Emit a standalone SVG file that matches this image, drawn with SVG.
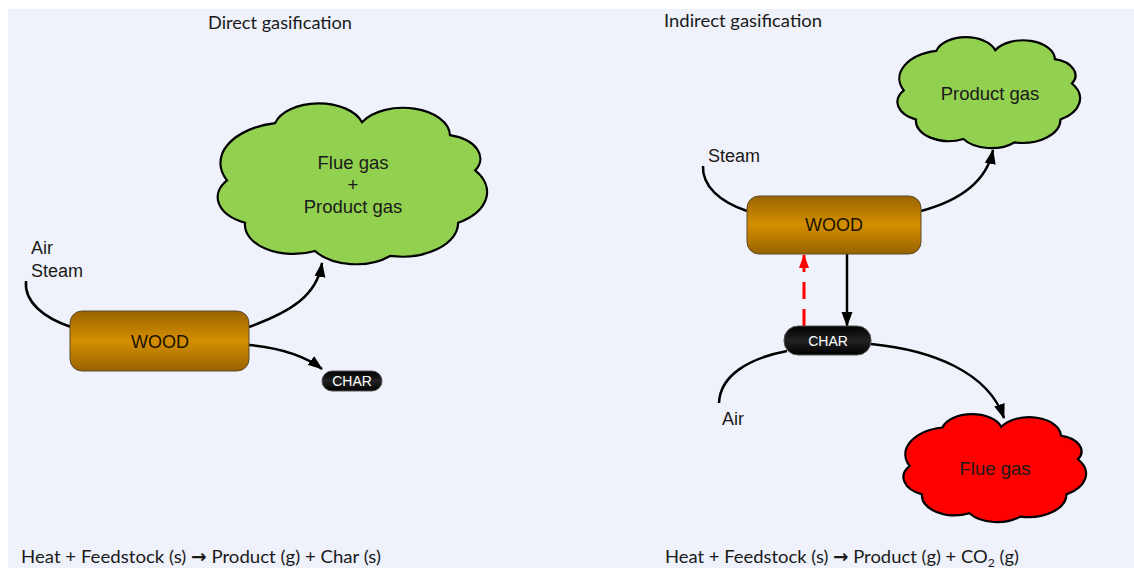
<svg xmlns="http://www.w3.org/2000/svg" xmlns:xlink="http://www.w3.org/1999/xlink" width="1134" height="568" viewBox="0 0 1134 568">
  <style>
    .title { font-family: "Lato", "Liberation Sans", sans-serif; font-size: 18px; fill: #1a1a1a; }
    .arrowglyph { font-family: "DejaVu Sans", sans-serif; font-weight: bold; }
    .label { font-family: "Liberation Sans", Arial, sans-serif; font-size: 18px; fill: #1a1a1a; }
    .woodtext { font-family: "Liberation Sans", Arial, sans-serif; font-size: 18px; fill: #1a1200; text-anchor: middle; }
    .chartext { font-family: "Liberation Sans", Arial, sans-serif; font-size: 14px; fill: #ffffff; text-anchor: middle; }
    .cloudtext { font-family: "Liberation Sans", Arial, sans-serif; font-size: 18.5px; fill: #1a1a1a; text-anchor: middle; }
    .wood { fill: url(#woodGrad); stroke: #5a4a30; stroke-width: 1; }
    .char { fill: url(#charGrad); stroke: #555555; stroke-width: 1; }
    .flow { fill: none; stroke: #000000; stroke-width: 2.5; }
    .flow-arrow { fill: none; stroke: #000000; stroke-width: 2.5; marker-end: url(#arrow); }
    .recycle { fill: none; stroke: #ff0000; stroke-width: 3; stroke-dasharray: 17 10; marker-end: url(#arrowRed); }
    .cloud-shape { stroke: #000000; stroke-width: 2.2; }
  </style>
  <defs>
    <linearGradient id="woodGrad" x1="0" y1="0" x2="0" y2="1">
      <stop offset="0" stop-color="#9a6400"/>
      <stop offset="0.5" stop-color="#d48f00"/>
      <stop offset="1" stop-color="#976200"/>
    </linearGradient>
    <linearGradient id="charGrad" x1="0" y1="0" x2="0" y2="1">
      <stop offset="0" stop-color="#000000"/>
      <stop offset="0.5" stop-color="#222222"/>
      <stop offset="1" stop-color="#000000"/>
    </linearGradient>
    <marker id="arrow" markerUnits="userSpaceOnUse" markerWidth="16" markerHeight="12" refX="14" refY="5.5" orient="auto">
      <path d="M0,0 L15,5.5 L0,11 Z" fill="#000000"/>
    </marker>
    <marker id="arrowRed" markerUnits="userSpaceOnUse" markerWidth="16" markerHeight="12" refX="13" refY="5" orient="auto">
      <path d="M0,0 L14,5 L0,10 Z" fill="#ff0000"/>
    </marker>
    <!-- cloud outline in a 1000x1000 box, scaled per use -->
    <path id="cloud" vector-effect="non-scaling-stroke" d="M215,125 A168,168 0 0 1 537,119 A174,174 0 0 1 863,200 A150,150 0 0 1 956,419 A224,224 0 0 1 893,744 A209,209 0 0 1 641,950 A181,181 0 0 1 363,919 A180,180 0 0 1 104,744 A175,175 0 0 1 37,481 A253,253 0 0 1 215,125 Z"/>
  </defs>

  <!-- page -->
  <rect x="0" y="0" width="1134" height="568" fill="#ffffff"/>
  <rect x="8" y="9" width="1126" height="559" fill="#eff2fa"/>

  <!-- headings and reactions -->
  <text class="title" x="208" y="29" textLength="144" lengthAdjust="spacingAndGlyphs">Direct gasification</text>
  <text class="title" x="664" y="27" textLength="158" lengthAdjust="spacingAndGlyphs">Indirect gasification</text>
  <text class="title" x="21" y="563" textLength="360" lengthAdjust="spacingAndGlyphs">Heat + Feedstock (s) <tspan class="arrowglyph">→</tspan> Product (g) + Char (s)</text>
  <text class="title" x="665" y="563" textLength="354" lengthAdjust="spacingAndGlyphs">Heat + Feedstock (s) <tspan class="arrowglyph">→</tspan> Product (g) + CO<tspan font-size="12" dy="4">2</tspan><tspan dy="-4"> (g)</tspan></text>

  <!-- connectors -->
  <g id="connectors">
    <!-- direct -->
    <path class="flow" d="M26,281 C24,302 44,318 71,327"/>
    <path class="flow-arrow" d="M249,327 C290,312 317,296 322,263"/>
    <path class="flow-arrow" d="M249,345 C280,348 305,356 322,369"/>
    <!-- indirect -->
    <path class="flow" d="M703,166 C702,186 720,202 747,211"/>
    <path class="flow-arrow" d="M921,211 C962,200 987,180 993,150"/>
    <path class="flow-arrow" d="M847,254 L847,326"/>
    <path class="recycle" d="M804,326 L804,255"/>
    <path class="flow-arrow" d="M871,344 C932,350 988,372 1004,418"/>
    <path class="flow" d="M719,403 C720,375 750,358 787,351"/>
  </g>

  <!-- direct gasification -->
  <g id="direct-inputs">
    <text class="label" x="31" y="254">Air</text>
    <text class="label" x="31" y="277">Steam</text>
  </g>
  <g id="direct-wood">
    <rect class="wood" x="70" y="311" width="179" height="60" rx="12"/>
    <text class="woodtext" x="160" y="348">WOOD</text>
  </g>
  <g id="direct-char">
    <rect class="char" x="322" y="371" width="60" height="20" rx="10"/>
    <text class="chartext" x="352" y="386">CHAR</text>
  </g>
  <g id="direct-gas">
    <use xlink:href="#cloud" class="cloud-shape" fill="#92d050" transform="translate(217,103) scale(0.270,0.161)"/>
    <text class="cloudtext" x="353" y="169">Flue gas</text>
    <text class="cloudtext" x="353" y="191">+</text>
    <text class="cloudtext" x="353" y="213">Product gas</text>
  </g>

  <!-- indirect gasification -->
  <g id="indirect-steam">
    <text class="label" x="708" y="162">Steam</text>
  </g>
  <g id="indirect-wood">
    <rect class="wood" x="747" y="196" width="174" height="58" rx="12"/>
    <text class="woodtext" x="834" y="231">WOOD</text>
  </g>
  <g id="indirect-char">
    <rect class="char" x="784" y="326" width="87" height="29" rx="14"/>
    <text class="chartext" x="828" y="346">CHAR</text>
  </g>
  <g id="indirect-air">
    <text class="label" x="722" y="425">Air</text>
  </g>
  <g id="product-gas">
    <use xlink:href="#cloud" class="cloud-shape" fill="#92d050" transform="translate(897,37) scale(0.183,0.111)"/>
    <text class="cloudtext" x="990" y="100">Product gas</text>
  </g>
  <g id="flue-gas">
    <use xlink:href="#cloud" class="cloud-shape" fill="#ff0000" transform="translate(903,414) scale(0.183,0.108)"/>
    <text class="cloudtext" x="995" y="475">Flue gas</text>
  </g>
</svg>
